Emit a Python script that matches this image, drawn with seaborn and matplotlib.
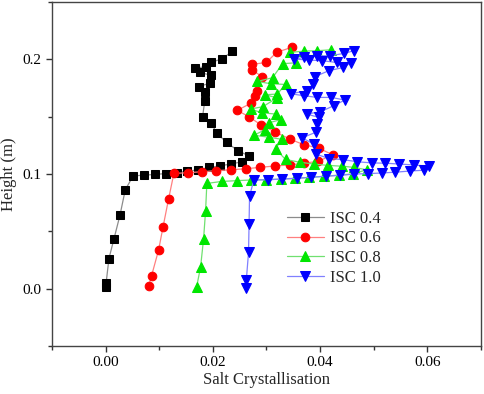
import numpy as np
import pandas as pd
import matplotlib
matplotlib.use("Agg")
import matplotlib.pyplot as plt
import seaborn as sns

# values (x = salt crystallisation, y = height in m)
isc04_x = [0.00006, 0.0001, 0.00062, 0.00155, 0.00267, 0.00367, 0.00513, 0.00708, 0.00919, 0.01122,
           0.01323, 0.01523, 0.01724, 0.01929, 0.02130, 0.02335, 0.02544, 0.02665, 0.02466, 0.02255,
           0.02075, 0.01970, 0.01808, 0.01849, 0.01849, 0.01737, 0.01948, 0.01966, 0.01758, 0.01659,
           0.01873, 0.01957, 0.02166, 0.02362]
isc04_y = [0.0017, 0.0052, 0.0262, 0.0433, 0.0639, 0.0863, 0.0983, 0.0990, 0.0996, 0.1004,
           0.1012, 0.1024, 0.1037, 0.1057, 0.1071, 0.1087, 0.1107, 0.1160, 0.1203, 0.1277,
           0.1354, 0.1443, 0.1500, 0.1637, 0.1711, 0.1763, 0.1792, 0.1861, 0.1886, 0.1924,
           0.1935, 0.1973, 0.2003, 0.2069]

isc06_x = [0.00801, 0.00857, 0.00988, 0.01072, 0.01174, 0.01273, 0.01528, 0.01795, 0.02063, 0.02343,
           0.02613, 0.02884, 0.03150, 0.03430, 0.03696, 0.03965, 0.04231, 0.03970, 0.03698, 0.03430,
           0.03161, 0.02898, 0.02671, 0.02455, 0.02708, 0.02790, 0.02828, 0.02921, 0.02734, 0.02731,
           0.02995, 0.03193, 0.03467]
isc06_y = [0.0020, 0.0113, 0.0337, 0.0541, 0.0782, 0.1005, 0.1011, 0.1020, 0.1029, 0.1037,
           0.1046, 0.1058, 0.1070, 0.1079, 0.1095, 0.1110, 0.1168, 0.1227, 0.1255, 0.1306,
           0.1367, 0.1428, 0.1500, 0.1555, 0.1617, 0.1678, 0.1726, 0.1848, 0.1907, 0.1956,
           0.1973, 0.2062, 0.2104]

isc08_x = [0.01696, 0.01771, 0.01827, 0.01864, 0.01888, 0.02162, 0.02442, 0.02716, 0.02995, 0.03262,
           0.03532, 0.03802, 0.04073, 0.04343, 0.04609, 0.04865, 0.04628, 0.04412, 0.04147, 0.03883,
           0.03616, 0.03355, 0.03169, 0.03281, 0.03044, 0.02764, 0.02973, 0.03044, 0.03262, 0.03169,
           0.02908, 0.02703, 0.02932, 0.03200, 0.02964, 0.03200, 0.03355, 0.03085, 0.02828, 0.03113,
           0.03299, 0.03554, 0.03439, 0.03696, 0.03946, 0.04212]
isc08_y = [0.0013, 0.0189, 0.0436, 0.0677, 0.0918, 0.0935, 0.0942, 0.0948, 0.0950, 0.0956,
           0.0963, 0.0970, 0.0979, 0.0991, 0.1000, 0.1037, 0.1058, 0.1068, 0.1075, 0.1087,
           0.1103, 0.1127, 0.1218, 0.1303, 0.1321, 0.1338, 0.1386, 0.1447, 0.1473, 0.1523,
           0.1534, 0.1567, 0.1587, 0.1665, 0.1691, 0.1697, 0.1781, 0.1787, 0.1807, 0.1840,
           0.1962, 0.1970, 0.2060, 0.2072, 0.2075, 0.2084]

isc10_x = [0.02619, 0.02624, 0.02665, 0.02675, 0.02684, 0.02764, 0.03020, 0.03294, 0.03560, 0.03830,
           0.04101, 0.04371, 0.04636, 0.04884, 0.05150, 0.05405, 0.05676, 0.05933, 0.06026, 0.05747,
           0.05480, 0.05219, 0.04962, 0.04692, 0.04432, 0.04172, 0.03914, 0.03883, 0.03666, 0.03914,
           0.03933, 0.03970, 0.03747, 0.04007, 0.04255, 0.04460, 0.04207, 0.03946, 0.03696, 0.03448,
           0.03760, 0.03871, 0.03896, 0.04162, 0.04431, 0.04567, 0.04306, 0.04039, 0.03789, 0.03510,
           0.03696, 0.03946, 0.04181, 0.04442, 0.04628]
isc10_y = [0.0009, 0.0076, 0.0316, 0.0564, 0.0806, 0.0948, 0.0950, 0.0956, 0.0962, 0.0972,
           0.0981, 0.0988, 0.1000, 0.1003, 0.1009, 0.1016, 0.1026, 0.1033, 0.1068, 0.1079,
           0.1087, 0.1094, 0.1097, 0.1107, 0.1125, 0.1135, 0.1174, 0.1260, 0.1316, 0.1363,
           0.1439, 0.1495, 0.1523, 0.1543, 0.1596, 0.1645, 0.1668, 0.1668, 0.1683, 0.1700,
           0.1726, 0.1785, 0.1848, 0.1901, 0.1929, 0.1968, 0.1973, 0.1988, 0.1994, 0.2003,
           0.2017, 0.2031, 0.2031, 0.2051, 0.2075]

labels = ["ISC 0.4", "ISC 0.6", "ISC 0.8", "ISC 1.0"]

sns.set_style("ticks")
plt.rcParams['font.family'] = ['Liberation Serif', 'DejaVu Serif']

fig = plt.figure(figsize=(4.84, 3.94), dpi=100)
ax = fig.add_axes([0.1074, 0.1218, 0.8864, 0.8731])

series = [
    (isc04_x, isc04_y, "#000000", "#8c8c8c", "s", 5.6),
    (isc06_x, isc06_y, "#ff0000", "#ff8080", "o", 6.2),
    (isc08_x, isc08_y, "#00e600", "#70e070", "^", 6.8),
    (isc10_x, isc10_y, "#0000ff", "#8080ff", "v", 6.8),
]

for (xs, ys, mc, lc, mk, ms), lab in zip(series, labels):
    df = pd.DataFrame({"x": xs, "y": ys})
    sns.lineplot(data=df, x="x", y="y", sort=False, estimator=None, ax=ax,
                 color=lc, lw=0.9, marker=mk, markersize=ms,
                 markerfacecolor=mc, markeredgecolor=mc, label=lab)

ax.set_xlim(-0.01, 0.07)
ax.set_ylim(-0.05, 0.25)
ax.set_xticks([0.0, 0.02, 0.04, 0.06])
ax.set_xticklabels(["0.00", "0.02", "0.04", "0.06"])
ax.set_xticks(np.arange(-0.01, 0.0701, 0.01), minor=True)
ax.set_yticks([0.0, 0.1, 0.2])
ax.set_yticklabels(["0.0", "0.1", "0.2"])
ax.set_yticks(np.arange(-0.05, 0.2501, 0.05), minor=True)
ax.tick_params(axis="both", which="major", direction="out", length=4, width=1,
               labelsize=11, colors="#333333", labelcolor="black")
ax.tick_params(axis="both", which="minor", direction="out", length=3, width=1,
               colors="#333333")

for sp in ax.spines.values():
    sp.set_visible(True)
    sp.set_color("#444444")
    sp.set_linewidth(1.0)

ax.set_xlabel("Salt Crystallisation", fontsize=12, labelpad=2)
ax.set_ylabel("Height (m)", fontsize=12, labelpad=4)

ax.legend(loc="upper left", bbox_to_anchor=(0.513, 0.437), frameon=False,
          fontsize=12, handlelength=2.2, handletextpad=0.4, labelspacing=0.22)

fig.savefig("out.png", dpi=100)
